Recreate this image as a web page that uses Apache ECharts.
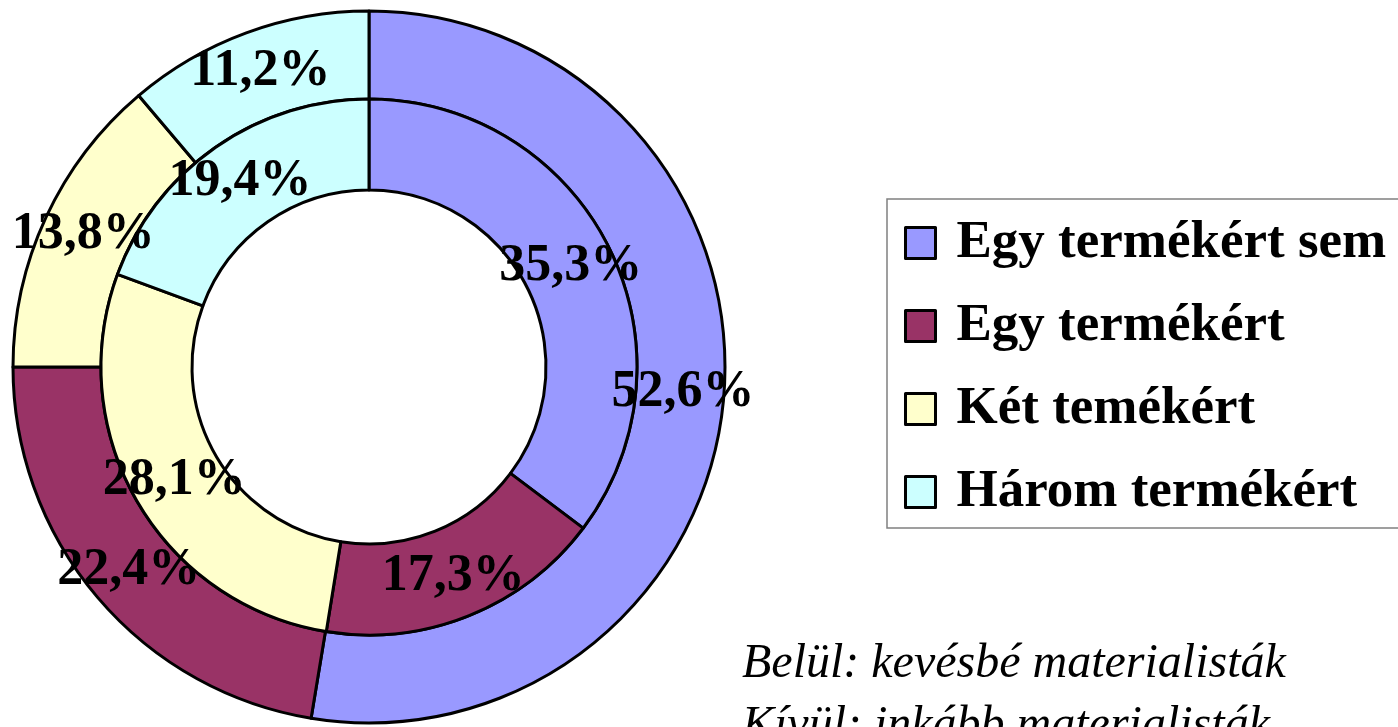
<!DOCTYPE html>
<html>
<head>
<meta charset="utf-8">
<script src="https://cdn.jsdelivr.net/npm/echarts@6/dist/echarts.min.js"></script>
<style>
  html, body { margin: 0; padding: 0; background: #fff; }
  #chart { width: 1398px; height: 727px; }
</style>
</head>
<body>
<div id="chart"></div>
<script>
// kategóriák
const categories = ["Egy termékért sem", "Egy termékért", "Két temékért", "Három termékért"];
// belül: kevésbé materialisták
const innerValues = [35.3, 17.3, 28.1, 19.4];
// kívül: inkább materialisták
const outerValues = [52.6, 22.4, 13.8, 11.2];
const colors = ["#9999FF", "#993366", "#FFFFCC", "#CCFFFF"];
const notes = ["Belül: kevésbé materialisták", "Kívül: inkább materialisták"];

const serif = "'Liberation Serif', 'Times New Roman', serif";

function pct(p) {
  return p.value.toFixed(1).replace(".", ",") + "%";
}

function ringSeries(name, values, radius) {
  return {
    name: name,
    type: "pie",
    center: [369, 367],
    radius: radius,
    startAngle: 90,
    clockwise: true,
    silent: true,
    animation: false,
    avoidLabelOverlap: false,
    itemStyle: { borderColor: "#000", borderWidth: 3 },
    label: {
      show: true,
      position: "inside",
      formatter: pct,
      color: "#000",
      fontFamily: serif,
      fontWeight: "bold",
      fontSize: 52
    },
    labelLine: { show: false },
    emphasis: { disabled: true },
    data: values.map((v, i) => ({
      name: categories[i],
      value: v,
      itemStyle: { color: colors[i] }
    }))
  };
}

const chart = echarts.init(document.getElementById("chart"));
const option = {
  backgroundColor: "#fff",
  animation: false,
  legend: {
    orient: "vertical",
    left: 887,
    top: 199,
    padding: [16, 40, 8, 17],
    itemGap: 27,
    itemWidth: 30,
    itemHeight: 31,
    icon: "rect",
    borderColor: "#808080",
    borderWidth: 1.5,
    selectedMode: false,
    itemStyle: { borderColor: "#000", borderWidth: 3 },
    textStyle: {
      color: "#000",
      fontFamily: serif,
      fontWeight: "bold",
      fontSize: 53,
      lineHeight: 56,
      padding: [0, 0, 0, 16]
    },
    data: categories
  },
  series: [
    ringSeries("Kívül", outerValues, [268, 356]),
    ringSeries("Belül", innerValues, [177, 268])
  ],
  graphic: notes.map((t, i) => ({
    type: "text",
    left: 742,
    top: 664 + i * 62 - 24,
    silent: true,
    style: {
      text: t,
      fill: "#000",
      font: "italic 48px " + serif,
      textVerticalAlign: "top"
    }
  }))
};
chart.setOption(option);
</script>
</body>
</html>
